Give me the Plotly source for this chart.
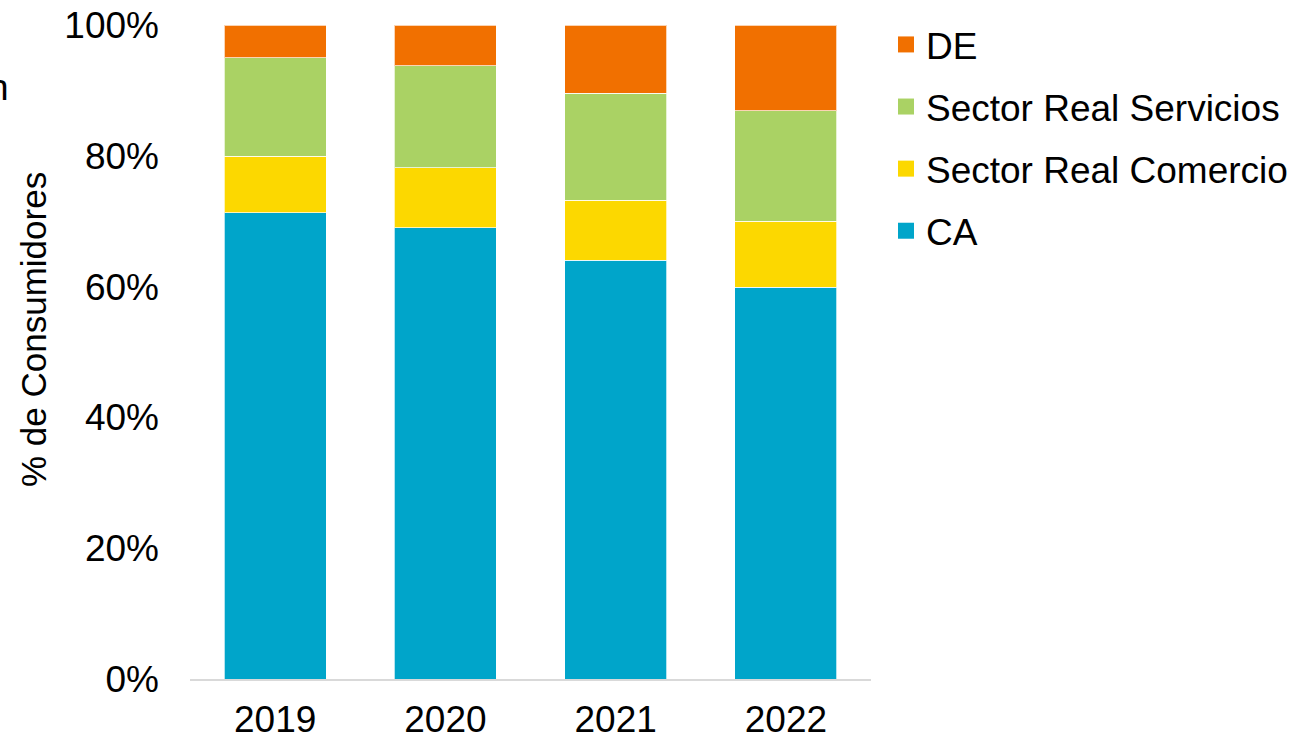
import plotly.graph_objects as go

# Share of consumers by segment, per year (percent)
years = ["2019", "2020", "2021", "2022"]
ca = [71.3, 69.0, 64.0, 59.9]
comercio = [8.6, 9.2, 9.2, 10.1]
servicios = [15.1, 15.6, 16.4, 16.9]
de = [5.0, 6.2, 10.4, 13.1]

series_names = ["CA", "Sector Real Comercio", "Sector Real Servicios", "DE"]
series_values = [ca, comercio, servicios, de]
series_colors = ["#00A5CA", "#FCD800", "#AAD264", "#F17000"]

FONT = "Liberation Sans, Arial, sans-serif"
FS = 37

# plot area in pixels
L, R, T, B = 190, 871, 25, 679
PW, PH = R - L, B - T

fig = go.Figure()
n = len(series_names)
for i, (name, vals, col) in enumerate(zip(series_names, series_values, series_colors)):
    fig.add_trace(go.Bar(
        x=years, y=vals, name=name,
        marker=dict(color=col, line=dict(color="rgba(255,255,255,0.7)", width=1)),
        showlegend=False,
    ))
    # legend swatch, top of legend = top of stack
    fig.add_trace(go.Scatter(
        x=[None], y=[None], mode="markers", name=name,
        marker=dict(symbol="square", size=18, color=col),
        legendgroup=name, legendrank=n - i,
    ))

fig.update_layout(
    width=1304, height=737,
    barmode="stack", bargap=0.4,
    plot_bgcolor="white", paper_bgcolor="white",
    margin=dict(l=L, r=1304 - R, t=T, b=737 - B, autoexpand=False),
    font=dict(family=FONT, size=FS, color="#000000"),
    showlegend=True,
    legend=dict(
        x=1.022, y=1.017, xanchor="left", yanchor="top",
        traceorder="grouped", tracegroupgap=11,
        font=dict(family=FONT, size=FS, color="#000000"),
        itemsizing="trace", bgcolor="rgba(0,0,0,0)",
    ),
)
fig.update_xaxes(
    showline=True, linecolor="#D9D9D9", linewidth=2,
    showgrid=False, ticks="", ticklabelstandoff=7,
    tickfont=dict(family=FONT, size=FS), automargin=False,
)
fig.update_yaxes(
    range=[0, 100], dtick=20, ticksuffix="%",
    showline=False, showgrid=False, zeroline=False,
    ticks="", ticklabelstandoff=30, automargin=False,
    tickfont=dict(family=FONT, size=FS),
)
# y-axis title
fig.add_annotation(
    text="% de Consumidores", textangle=-90, xref="paper", yref="paper",
    x=(33 - L) / PW, y=(B - 330) / PH, xanchor="center", yanchor="middle",
    showarrow=False, font=dict(family=FONT, size=35, color="#000000"),
)
fig.add_annotation(
    text="n", xref="paper", yref="paper", x=-L / PW, y=(B - 87) / PH,
    xanchor="right", yanchor="middle", showarrow=False, xshift=11,
    font=dict(family=FONT, size=FS, color="#000000"),
)

fig.write_html("out.html")
